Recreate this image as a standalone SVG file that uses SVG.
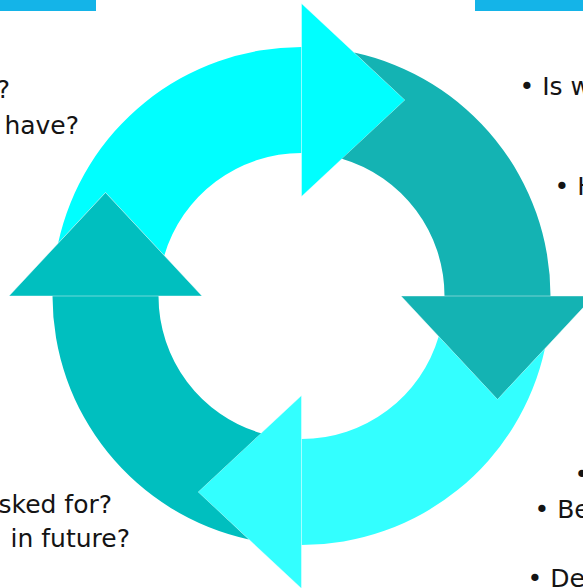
<svg xmlns="http://www.w3.org/2000/svg" xmlns:xlink="http://www.w3.org/1999/xlink" width="583" height="588" viewBox="0 0 583 588">
  <style>
    .t { font-family: "DejaVu Sans", "Noto Sans", sans-serif; font-size: 25px; fill: #141414; }
    .e { text-anchor: end; }
    .bar { fill: #14B4E8; }
    .head { stroke: #ffffff; stroke-width: 0.6; stroke-opacity: 0.7; }
  </style>
  <defs>
    <!-- band from the previous head to the 3 o'clock position (drawn for the right arrow) -->
    <path id="band" d="M 354.2,52.6 A 249 249 0 0 1 550.5,296 L 444.5,296 A 143 143 0 0 0 341.9,158.8 L 405,100 Z"/>
    <path id="head" d="M 401,296 L 594,296 L 497.5,399.5 Z"/>
  </defs>

  <rect class="bar" x="0" y="0" width="96" height="11"/>
  <rect class="bar" x="475" y="0" width="108" height="11"/>

  <g id="connectors">
    <g id="arrow-top" fill="#00FFFF">
      <use xlink:href="#band" transform="rotate(270 301.5 296)"/>
      <use xlink:href="#head" class="head" transform="rotate(270 301.5 296)"/>
    </g>
    <g id="arrow-right" fill="#14B3B3">
      <use xlink:href="#band"/>
      <use xlink:href="#head" class="head"/>
    </g>
    <g id="arrow-bottom" fill="#33FFFF">
      <use xlink:href="#band" transform="rotate(90 301.5 296)"/>
      <use xlink:href="#head" class="head" transform="rotate(90 301.5 296)"/>
    </g>
    <g id="arrow-left" fill="#00BFBF">
      <use xlink:href="#band" transform="rotate(180 301.5 296)"/>
      <use xlink:href="#head" class="head" transform="rotate(180 301.5 296)"/>
    </g>
  </g>

  <g id="text-top-left">
    <text class="t e" x="10" y="98">?</text>
    <text class="t e" x="79" y="134">have?</text>
  </g>
  <g id="text-top-right">
    <text class="t" x="519.5" y="95">• Is w</text>
    <text class="t" x="554.5" y="195">• H</text>
  </g>
  <g id="text-bottom-left">
    <text class="t e" x="112" y="513">sked for?</text>
    <text class="t e" x="130" y="547">in future?</text>
  </g>
  <g id="text-bottom-right">
    <text class="t" x="574.5" y="483">•</text>
    <text class="t" x="534.5" y="518">• Be</text>
    <text class="t" x="527.5" y="587">• De</text>
  </g>
</svg>
